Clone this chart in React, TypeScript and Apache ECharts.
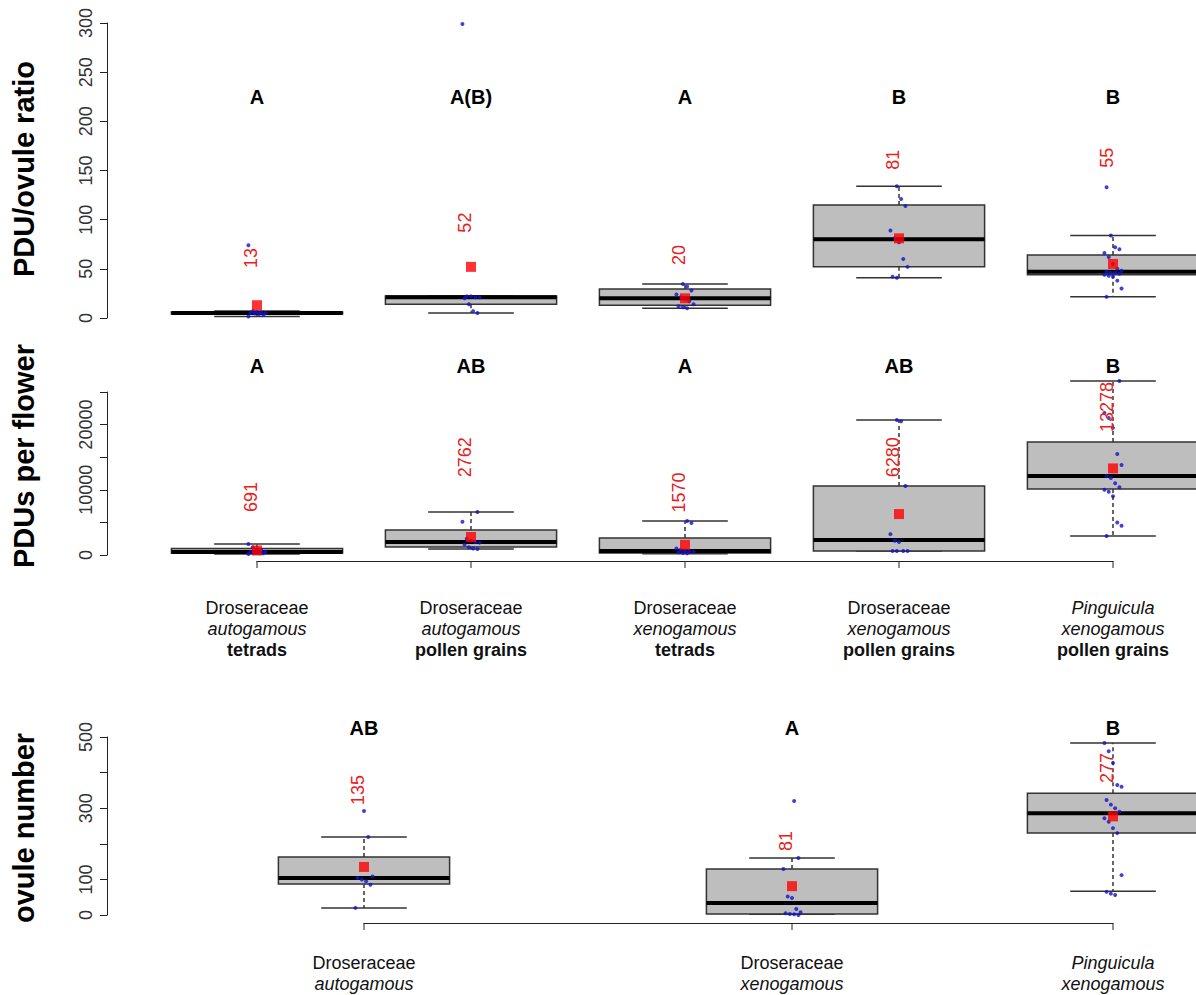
import { useEffect, useRef } from 'react';
import * as echarts from 'echarts';

const FONT = '"Liberation Sans", Arial, Helvetica, sans-serif';

// ---------- categories ----------
const topPositions = [1, 2, 3, 4, 5];
const bottomPositions = [1.5, 3.5, 5];
const line1Top = ['Droseraceae', 'Droseraceae', 'Droseraceae', 'Droseraceae', 'Pinguicula'];
const line2Top = ['autogamous', 'autogamous', 'xenogamous', 'xenogamous', 'xenogamous'];
const line3Top = ['tetrads', 'pollen grains', 'tetrads', 'pollen grains', 'pollen grains'];
const line1Bottom = ['Droseraceae', 'Droseraceae', 'Pinguicula'];
const line2Bottom = ['autogamous', 'xenogamous', 'xenogamous'];

// ---------- PDU/ovule ratio ----------
// [lower whisker, Q1, median, Q3, upper whisker]
const ratioStats = [
  [1.5, 4, 5, 6, 7],
  [5, 14, 21, 22.5, 22.5],
  [10, 13, 20, 29.5, 34.5],
  [41, 52, 80, 115, 134],
  [21.5, 44, 47, 64, 84],
];
const ratioPoints = [
  [1.5, 3, 4, 4.5, 5, 5, 5.5, 6, 7, 74],
  [5, 7, 14, 20, 21, 21, 22, 22, 299],
  [10, 11, 12, 14, 17, 19, 21, 24, 28, 32, 34.5],
  [41, 42, 52, 60, 77, 81, 89, 114, 121, 134],
  [21.5, 30, 38, 42, 43, 44, 45, 46, 46, 47, 48, 50, 55, 62, 66, 70, 72, 84, 133],
];
const ratioMeans = [13, 52, 20, 81, 55];
const ratioMeanLabelAt = [61, 97, 64, 161, 163];
const ratioLetters = ['A', 'A(B)', 'A', 'B', 'B'];
const ratioLetterAt = 225;
const ratioTicks = { min: 0, max: 300, interval: 50 };

// ---------- PDUs per flower ----------
const pduStats = [
  [150, 300, 450, 1000, 1700],
  [920, 1230, 2000, 3830, 6600],
  [200, 300, 600, 2600, 5200],
  [600, 610, 2300, 10580, 20700],
  [2900, 10120, 12100, 17330, 26700],
];
const pduPoints = [
  [150, 250, 300, 400, 450, 500, 700, 900, 1200, 1700],
  [920, 1000, 1200, 1600, 1900, 2000, 2200, 2500, 5100, 6600],
  [250, 300, 400, 500, 600, 700, 800, 1000, 4900, 5200],
  [600, 600, 600, 600, 2000, 2200, 3200, 10580, 20500, 20700],
  [2900, 4500, 5000, 9000, 9700, 10000, 10400, 11000, 11800, 12100, 13800, 15500, 19500, 21000, 21800, 26700],
];
const pduMeans = [691, 2762, 1570, 6280, 13278];
const pduMeanLabelAt = [8900, 15000, 9600, 15000, 22700];
const pduLetters = ['A', 'AB', 'A', 'AB', 'B'];
const pduLetterAt = 29000;
const pduTicks = { min: 0, max: 25000, interval: 5000 };
const pduTickLabels = [0, 10000, 20000];

// ---------- ovule number ----------
const ovuleStats = [
  [20, 87, 104, 163, 219],
  [2, 3, 34, 129, 160],
  [67, 230, 286, 342, 483],
];
const ovulePoints = [
  [20, 85, 95, 100, 104, 108, 219, 292],
  [0, 2, 3, 5, 8, 17, 48, 52, 129, 160, 320],
  [56, 60, 65, 112, 230, 244, 262, 272, 290, 300, 310, 323, 360, 365, 427, 460, 483],
];
const ovuleMeans = [135, 81, 277];
const ovuleMeanLabelAt = [351, 208, 413];
const ovuleLetters = ['AB', 'A', 'B'];
const ovuleLetterAt = 525;
const ovuleTicks = { min: 0, max: 500, interval: 100 };
const ovuleTickLabels = [0, 100, 300, 500];

// ---------- style constants ----------
const BOX_W = 0.8;
const CAP_W = 0.4;
const AXIS_COLOR = '#222';
const RED = '#e82020';
const BLUE = '#1414c8';

function jitter(i: number) {
  return (((i * 7) % 9) - 4) * 0.01;
}

function boxSeries(idx: number, positions: number[], stats: number[][]) {
  return {
    type: 'custom',
    xAxisIndex: idx,
    yAxisIndex: idx,
    clip: false,
    z: 2,
    data: stats.map((s, i) => [positions[i], ...s]),
    renderItem: (params: any, api: any) => {
      const x = api.value(0);
      const lo = api.coord([x, api.value(1)]);
      const q1 = api.coord([x, api.value(2)]);
      const med = api.coord([x, api.value(3)]);
      const q3 = api.coord([x, api.value(4)]);
      const hi = api.coord([x, api.value(5)]);
      const bw = api.size([BOX_W, 0])[0];
      const cw = api.size([CAP_W, 0])[0];
      const cx = lo[0];
      const dash = { stroke: '#000', lineWidth: 1.2, lineDash: [4, 3] };
      const cap = { stroke: '#333', lineWidth: 1.5 };
      return {
        type: 'group',
        children: [
          { type: 'line', shape: { x1: cx, y1: q3[1], x2: cx, y2: hi[1] }, style: dash },
          { type: 'line', shape: { x1: cx, y1: q1[1], x2: cx, y2: lo[1] }, style: dash },
          { type: 'line', shape: { x1: cx - cw / 2, y1: hi[1], x2: cx + cw / 2, y2: hi[1] }, style: cap },
          { type: 'line', shape: { x1: cx - cw / 2, y1: lo[1], x2: cx + cw / 2, y2: lo[1] }, style: cap },
          {
            type: 'rect',
            shape: { x: cx - bw / 2, y: q3[1], width: bw, height: Math.max(q1[1] - q3[1], 0.5) },
            style: { fill: '#bebebe', stroke: '#333', lineWidth: 1.5 },
          },
          {
            type: 'line',
            shape: { x1: cx - bw / 2, y1: med[1], x2: cx + bw / 2, y2: med[1] },
            style: { stroke: '#000', lineWidth: 4 },
          },
        ],
      };
    },
  };
}

function pointSeries(idx: number, positions: number[], pts: number[][]) {
  const data: number[][] = [];
  pts.forEach((arr, g) => arr.forEach((v, i) => data.push([positions[g] + jitter(i + g), v])));
  return {
    type: 'scatter',
    xAxisIndex: idx,
    yAxisIndex: idx,
    clip: false,
    z: 3,
    symbol: 'circle',
    symbolSize: 4,
    itemStyle: { color: BLUE },
    data,
  };
}

function meanSeries(idx: number, positions: number[], means: number[]) {
  return {
    type: 'scatter',
    xAxisIndex: idx,
    yAxisIndex: idx,
    clip: false,
    z: 4,
    symbol: 'rect',
    symbolSize: 10,
    itemStyle: { color: '#ff0000' },
    data: means.map((m, i) => [positions[i], m]),
  };
}

function textSeries(
  idx: number,
  positions: number[],
  ys: number[],
  texts: string[],
  kind: 'mean' | 'letter'
) {
  return {
    type: 'custom',
    xAxisIndex: idx,
    yAxisIndex: idx,
    clip: false,
    z: 5,
    data: positions.map((p, i) => [p, ys[i]]),
    renderItem: (params: any, api: any) => {
      const c = api.coord([api.value(0), api.value(1)]);
      const t = texts[params.dataIndex];
      if (kind === 'mean') {
        return {
          type: 'text',
          x: c[0] - 6,
          y: c[1],
          rotation: Math.PI / 2,
          style: {
            text: t,
            fill: RED,
            fontSize: 18,
            fontFamily: FONT,
            align: 'center',
            verticalAlign: 'middle',
          },
        };
      }
      return {
        type: 'text',
        x: c[0],
        y: c[1],
        style: {
          text: t,
          fill: '#000',
          fontSize: 20,
          fontWeight: 'bold',
          fontFamily: FONT,
          align: 'center',
          verticalAlign: 'middle',
        },
      };
    },
  };
}

const rich = {
  r: { fontSize: 18, fontFamily: FONT, fill: '#111', lineHeight: 21 },
  i: { fontSize: 18, fontFamily: FONT, fill: '#111', fontStyle: 'italic', lineHeight: 21 },
  b: { fontSize: 18, fontFamily: FONT, fill: '#111', fontWeight: 'bold', lineHeight: 21 },
};

function xLabelSeries(
  idx: number,
  positions: number[],
  lines: string[][],
  axisOffset: number,
  labelTop: number
) {
  return {
    type: 'custom',
    xAxisIndex: idx,
    yAxisIndex: idx,
    clip: false,
    z: 5,
    data: positions.map((p) => [p, 0]),
    renderItem: (params: any, api: any) => {
      const i = params.dataIndex;
      const c = api.coord([api.value(0), 0]);
      const cs = params.coordSys;
      const ay = cs.y + cs.height + axisOffset;
      const parts = lines.map((l, k) => {
        const word = l[i];
        let tag = 'r';
        if (k === 0 && word === 'Pinguicula') tag = 'i';
        if (k === 1) tag = 'i';
        if (k === 2) tag = 'b';
        return `{${tag}|${word}}`;
      });
      return {
        type: 'group',
        children: [
          {
            type: 'line',
            shape: { x1: c[0], y1: ay, x2: c[0], y2: ay + 7 },
            style: { stroke: AXIS_COLOR, lineWidth: 1 },
          },
          {
            type: 'text',
            x: c[0],
            y: ay + labelTop,
            style: { text: parts.join('\n'), rich, align: 'center', verticalAlign: 'top' },
          },
        ],
      };
    },
  };
}

function yAxis(idx: number, ticks: { min: number; max: number; interval: number }, offset: number, shown?: number[]) {
  return {
    type: 'value',
    gridIndex: idx,
    min: ticks.min,
    max: ticks.max,
    interval: ticks.interval,
    offset,
    axisLine: { show: true, onZero: false, lineStyle: { color: AXIS_COLOR, width: 1 } },
    axisTick: { show: true, length: 7, lineStyle: { color: AXIS_COLOR, width: 1 } },
    axisLabel: {
      rotate: 90,
      margin: 12,
      fontSize: 18,
      color: '#333',
      fontFamily: FONT,
      formatter: (v: number) => (shown ? (shown.includes(v) ? String(v) : '') : String(v)),
    },
    splitLine: { show: false },
  };
}

function xAxis(idx: number, min: number, max: number, show: boolean, offset: number) {
  return {
    type: 'value',
    gridIndex: idx,
    min,
    max,
    show,
    offset,
    axisLine: { show: true, onZero: false, lineStyle: { color: AXIS_COLOR, width: 1 } },
    axisTick: { show: false },
    axisLabel: { show: false },
    splitLine: { show: false },
  };
}

function titleText(text: string, x: number, y: number) {
  return {
    type: 'text',
    x,
    y,
    rotation: Math.PI / 2,
    style: {
      text,
      fill: '#000',
      fontSize: 29,
      fontWeight: 'bold',
      fontFamily: FONT,
      align: 'center',
      verticalAlign: 'middle',
    },
  };
}

export default function App() {
  const ref = useRef<HTMLDivElement>(null);
  useEffect(() => {
    if (!ref.current) return;
    const chart = echarts.init(ref.current, undefined, { renderer: 'svg' });
    const PX = 214;
    const left5 = 257;
    const left3 = left5 + 0.5 * PX;
    chart.setOption({
      animation: false,
      backgroundColor: '#fff',
      grid: [
        { left: left5, width: 4 * PX, top: 23, height: 295, outerBoundsMode: 'none' },
        { left: left5, width: 4 * PX, top: 392, height: 163, outerBoundsMode: 'none' },
        { left: left3, width: 3.5 * PX, top: 737, height: 178, outerBoundsMode: 'none' },
      ],
      xAxis: [
        xAxis(0, 1, 5, false, 0),
        xAxis(1, 1, 5, true, 6),
        xAxis(2, 1.5, 5, true, 8),
      ],
      yAxis: [
        yAxis(0, ratioTicks, left5 - 107),
        yAxis(1, pduTicks, left5 - 107, pduTickLabels),
        yAxis(2, ovuleTicks, left3 - 107, ovuleTickLabels),
      ],
      graphic: [
        titleText('PDU/ovule ratio', 24, 169),
        titleText('PDUs per flower', 24, 456),
        titleText('ovule number', 24, 828),
      ],
      series: [
        boxSeries(0, topPositions, ratioStats),
        pointSeries(0, topPositions, ratioPoints),
        meanSeries(0, topPositions, ratioMeans),
        textSeries(0, topPositions, ratioMeanLabelAt, ratioMeans.map(String), 'mean'),
        textSeries(0, topPositions, topPositions.map(() => ratioLetterAt), ratioLetters, 'letter'),

        boxSeries(1, topPositions, pduStats),
        pointSeries(1, topPositions, pduPoints),
        meanSeries(1, topPositions, pduMeans),
        textSeries(1, topPositions, pduMeanLabelAt, pduMeans.map(String), 'mean'),
        textSeries(1, topPositions, topPositions.map(() => pduLetterAt), pduLetters, 'letter'),
        xLabelSeries(1, topPositions, [line1Top, line2Top, line3Top], 6, 36),

        boxSeries(2, bottomPositions, ovuleStats),
        pointSeries(2, bottomPositions, ovulePoints),
        meanSeries(2, bottomPositions, ovuleMeans),
        textSeries(2, bottomPositions, ovuleMeanLabelAt, ovuleMeans.map(String), 'mean'),
        textSeries(2, bottomPositions, bottomPositions.map(() => ovuleLetterAt), ovuleLetters, 'letter'),
        xLabelSeries(2, bottomPositions, [line1Bottom, line2Bottom], 8, 29),
      ],
    });
    return () => chart.dispose();
  }, []);
  return (
    <div
      ref={ref}
      style={{ position: 'absolute', left: 0, top: 0, width: 1196, height: 995, background: '#fff' }}
    />
  );
}
